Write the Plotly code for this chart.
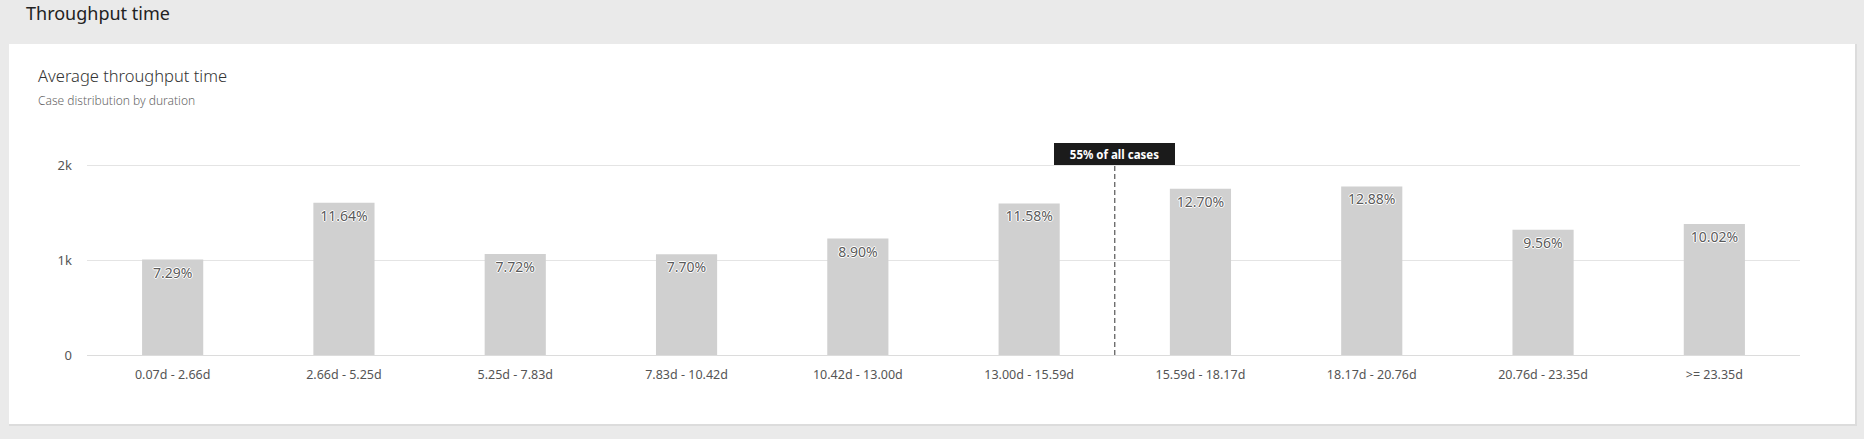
import plotly.graph_objects as go

categories = ["0.07d - 2.66d", "2.66d - 5.25d", "5.25d - 7.83d", "7.83d - 10.42d",
              "10.42d - 13.00d", "13.00d - 15.59d", "15.59d - 18.17d",
              "18.17d - 20.76d", "20.76d - 23.35d", ">= 23.35d"]
case_counts = [1009, 1610, 1068, 1065, 1231, 1602, 1757, 1782, 1323, 1386]
percent_labels = ["7.29%", "11.64%", "7.72%", "7.70%", "8.90%", "11.58%",
                  "12.70%", "12.88%", "9.56%", "10.02%"]
y_tickvals = [0, 1000, 2000]
y_ticktext = ["0", "1k", "2k"]
marker_position = 5.5
marker_label = "55% of all cases"

W, H = 1864, 439
L, R, T, B = 87, 64, 163, 84
PW, PH = W - L - R, H - T - B
Y_MAX = 2030


def px_x(x):
    return (x - L) / PW


def px_y(y):
    return (H - B - y) / PH


FONT = "Noto Sans"

fig = go.Figure()
fig.add_trace(go.Bar(
    x=list(range(len(categories))),
    y=case_counts,
    text=percent_labels,
    textposition="inside",
    insidetextanchor="end",
    textangle=0,
    textfont=dict(family=FONT, size=14, color="#5a5a5a",
                  shadow="1px 0 0 #fff, -1px 0 0 #fff, 0 1px 0 #fff, 0 -1px 0 #fff"),
    marker=dict(color="#d0d0d0", line=dict(width=0)),
    hoverinfo="skip",
    cliponaxis=False,
))

shapes = [
    # card shadow and card
    dict(type="rect", xref="paper", yref="paper", layer="below",
         x0=px_x(9), x1=px_x(1857), y0=px_y(44), y1=px_y(426),
         fillcolor="#dcdcdc", line=dict(width=0)),
    dict(type="rect", xref="paper", yref="paper", layer="below",
         x0=px_x(9), x1=px_x(1855), y0=px_y(44), y1=px_y(424),
         fillcolor="#ffffff", line=dict(width=0)),
    # dashed marker line
    dict(type="line", xref="x", yref="paper", x0=marker_position, x1=marker_position,
         y0=0, y1=px_y(165), line=dict(color="#333333", width=1, dash="5px,3px")),
]

annotations = [
    dict(text="Throughput time", xref="paper", yref="paper", x=px_x(24), y=px_y(13),
         xanchor="left", yanchor="middle", showarrow=False,
         font=dict(family=FONT, size=18, color="#222222")),
    dict(text="Average throughput time", xref="paper", yref="paper", x=px_x(36), y=px_y(75),
         xanchor="left", yanchor="middle", showarrow=False,
         font=dict(family=FONT, size=16.5, weight=300, color="#333333")),
    dict(text="Case distribution by duration", xref="paper", yref="paper", x=px_x(36), y=px_y(101),
         xanchor="left", yanchor="middle", showarrow=False,
         font=dict(family=FONT, size=12, weight=300, color="#666666")),
    dict(text="<b>" + marker_label + "</b>", xref="x", yref="paper", x=marker_position,
         y=px_y(154), xanchor="center", yanchor="middle", showarrow=False,
         bgcolor="#1b1b1b", borderpad=2, borderwidth=1, bordercolor="#1b1b1b",
         width=115, height=16,
         font=dict(family=FONT, size=11.5, color="#ffffff")),
]

fig.update_layout(
    width=W, height=H,
    margin=dict(l=L, r=R, t=T, b=B, pad=0),
    paper_bgcolor="#eaeaea",
    plot_bgcolor="#ffffff",
    showlegend=False,
    bargap=0.643,
    shapes=shapes,
    annotations=annotations,
    font=dict(family=FONT, color="#555555"),
    xaxis=dict(
        tickmode="array", tickvals=list(range(len(categories))), ticktext=categories,
        range=[-0.5, len(categories) - 0.5],
        showgrid=False, zeroline=False, showline=True, linecolor="#dcdcdc", linewidth=1,
        ticks="", ticklabelstandoff=8,
        tickfont=dict(family=FONT, size=12.5, color="#555555"),
        fixedrange=True,
    ),
    yaxis=dict(
        tickmode="array", tickvals=y_tickvals, ticktext=y_ticktext,
        range=[0, Y_MAX],
        showgrid=True, gridcolor="#e4e4e4", gridwidth=1,
        zeroline=False, showline=False, ticks="", ticklabelstandoff=14,
        tickfont=dict(family=FONT, size=13, color="#555555"),
        fixedrange=True,
    ),
)

fig.write_html("out.html", config=dict(displayModeBar=False))
